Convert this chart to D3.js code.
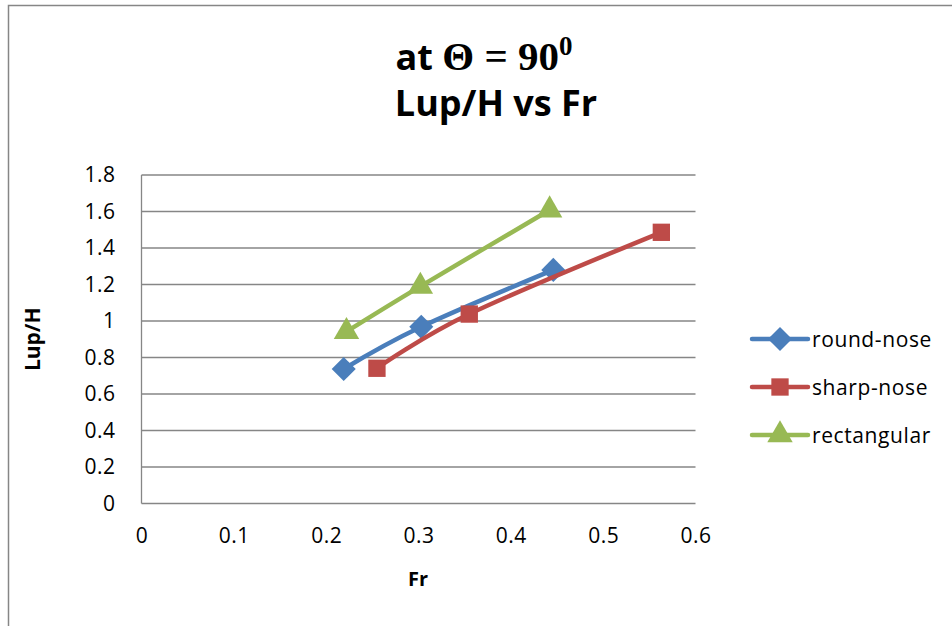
<!DOCTYPE html>
<html>
<head>
<meta charset="utf-8">
<script src="https://cdn.jsdelivr.net/npm/d3@7"></script>
<style>
  body { margin: 0; background: #fff; }
  text { font-family: "Open Sans", sans-serif; fill: #000; }
</style>
</head>
<body>
<div id="chart"></div>
<script>
// chart values
const seriesNames = ["round-nose", "sharp-nose", "rectangular"];
const seriesColors = ["#4a7ebb", "#be4b48", "#98b954"];
const roundNoseFr = [0.219, 0.303, 0.446];
const roundNoseLup = [0.737, 0.968, 1.28];
const sharpNoseFr = [0.255, 0.355, 0.563];
const sharpNoseLup = [0.741, 1.038, 1.486];
const rectFr = [0.222, 0.302, 0.442];
const rectLup = [0.942, 1.19, 1.608];
const xTicks = [0, 0.1, 0.2, 0.3, 0.4, 0.5, 0.6];
const yTicks = [0, 0.2, 0.4, 0.6, 0.8, 1, 1.2, 1.4, 1.6, 1.8];

const width = 952;
const height = 626;

// wide diamond (square turned 45 degrees), like the spreadsheet marker
const wideDiamond = {
  draw(ctx, size) {
    const r = Math.sqrt(size / 2);
    ctx.moveTo(0, -r);
    ctx.lineTo(r, 0);
    ctx.lineTo(0, r);
    ctx.lineTo(-r, 0);
    ctx.closePath();
  }
};

const series = [
  {name: seriesNames[0], fr: roundNoseFr, lup: roundNoseLup, symbol: wideDiamond, size: 290},
  {name: seriesNames[1], fr: sharpNoseFr, lup: sharpNoseLup, symbol: d3.symbolSquare, size: 300},
  {name: seriesNames[2], fr: rectFr, lup: rectLup, symbol: d3.symbolTriangle, size: 280}
].map((s, i) => ({...s, color: seriesColors[i], points: s.fr.map((f, j) => [f, s.lup[j]])}));

const svg = d3.select("#chart").append("svg")
  .attr("width", width)
  .attr("height", height);

// outer chart border (left and top visible)
svg.append("rect")
  .attr("x", 8.5).attr("y", 5.5)
  .attr("width", 1000).attr("height", 1000)
  .attr("fill", "none")
  .attr("stroke", "#868686")
  .attr("stroke-width", 1.5);

const x = d3.scaleLinear().domain([0, 0.6]).range([141.5, 695.5]);
const y = d3.scaleLinear().domain([0, 1.8]).range([503.5, 175]);

// gridlines
svg.append("g")
  .selectAll("line")
  .data(yTicks)
  .join("line")
  .attr("x1", x(0)).attr("x2", x(0.6))
  .attr("y1", d => y(d)).attr("y2", d => y(d))
  .attr("stroke", "#868686")
  .attr("stroke-width", 1.3);

// left axis line
svg.append("line")
  .attr("x1", x(0)).attr("x2", x(0))
  .attr("y1", y(0)).attr("y2", y(1.8))
  .attr("stroke", "#868686")
  .attr("stroke-width", 1.3);

// y axis labels
const yAxis = d3.axisLeft(y).tickValues(yTicks).tickSize(0).tickPadding(26)
  .tickFormat(d3.format("~g"));
const yg = svg.append("g").attr("transform", `translate(${x(0)},0)`).call(yAxis);
yg.select(".domain").remove();
yg.selectAll("text")
  .attr("font-family", "Open Sans, sans-serif")
  .attr("font-size", 21)
  .attr("letter-spacing", 0.5);

// x axis labels
const xAxis = d3.axisBottom(x).tickValues(xTicks).tickSize(0).tickPadding(25)
  .tickFormat(d3.format("~g"));
const xg = svg.append("g").attr("transform", `translate(0,${y(0)})`).call(xAxis);
xg.select(".domain").remove();
xg.selectAll("text")
  .attr("font-family", "Open Sans, sans-serif")
  .attr("font-size", 21)
  .attr("letter-spacing", 0.5);

// axis titles
svg.append("text")
  .attr("x", 418).attr("y", 586)
  .attr("text-anchor", "middle")
  .style("font-size", "20px").style("font-weight", "bold")
  .text("Fr");

svg.append("text")
  .attr("transform", `translate(40,${y(0.9)}) rotate(-90)`)
  .attr("text-anchor", "middle")
  .style("font-size", "21px").style("font-weight", "bold")
  .text("Lup/H");

// title
const t1 = svg.append("text")
  .attr("x", 484).attr("y", 70)
  .attr("text-anchor", "middle")
  .style("font-weight", "bold");
t1.append("tspan").style("font-size", "36px").text("at ");
t1.append("tspan")
  .style("font-family", "'Liberation Serif', 'DejaVu Serif', serif")
  .style("font-size", "41px").text("\u0398 = 90");
t1.append("tspan")
  .attr("dy", -15)
  .style("font-family", "'Liberation Serif', 'DejaVu Serif', serif")
  .style("font-size", "27px").text("0");

svg.append("text")
  .attr("x", 496).attr("y", 116)
  .attr("text-anchor", "middle")
  .style("font-size", "36px").style("font-weight", "bold")
  .text("Lup/H vs Fr");

// series lines
const line = d3.line()
  .x(d => x(d[0]))
  .y(d => y(d[1]))
  .curve(d3.curveCatmullRom.alpha(0));

const sg = svg.append("g")
  .selectAll("g")
  .data(series)
  .join("g");

sg.append("path")
  .attr("d", d => line(d.points))
  .attr("fill", "none")
  .attr("stroke", d => d.color)
  .attr("stroke-width", 4.5)
  .attr("stroke-linecap", "round");

sg.selectAll("path.marker")
  .data(d => d.points.map(p => ({p, s: d})))
  .join("path")
  .attr("class", "marker")
  .attr("transform", d => `translate(${x(d.p[0])},${y(d.p[1])})`)
  .attr("d", d => d3.symbol().type(d.s.symbol).size(d.s.size)())
  .attr("fill", d => d.s.color);

// legend
const lg = svg.append("g")
  .selectAll("g")
  .data(series)
  .join("g")
  .attr("transform", (d, i) => `translate(752,${339 + i * 48})`);

lg.append("line")
  .attr("x1", 0).attr("x2", 56)
  .attr("stroke", d => d.color)
  .attr("stroke-width", 4.5)
  .attr("stroke-linecap", "round");

lg.append("path")
  .attr("transform", "translate(28,0)")
  .attr("d", d => d3.symbol().type(d.symbol).size(d.size)())
  .attr("fill", d => d.color);

lg.append("text")
  .attr("x", 60).attr("dy", "0.36em")
  .attr("letter-spacing", 0.6)
  .style("font-size", "21px")
  .text(d => d.name);
</script>
</body>
</html>
